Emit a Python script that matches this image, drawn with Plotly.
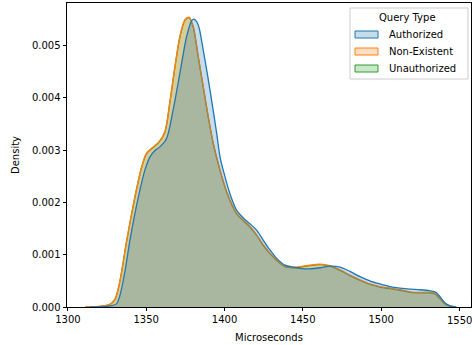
import plotly.graph_objects as go

# Kernel density estimates of query latency (microseconds) per query type
auth_x = [1314, 1322, 1327, 1331, 1333.2, 1336.4, 1339.6, 1342.8, 1346, 1349.2, 1352.4,
          1355.6, 1358.7, 1363, 1367.2, 1371.5, 1375.8, 1379, 1380.5, 1383.2, 1386.4,
          1390.7, 1395, 1397.1, 1400.3, 1403.4, 1407.7, 1412, 1416.2, 1420.5, 1424.7,
          1429, 1433.3, 1438.6, 1443.9, 1448.1, 1454.5, 1461, 1467.3, 1473.7, 1480.1,
          1486.5, 1492.8, 1499.2, 1505.6, 1512, 1518.4, 1524.8, 1531.2, 1535, 1537.5,
          1540.7, 1543.9, 1548]
auth_y = [0, 0.000005, 0.00002, 0.00006, 0.00022, 0.00068, 0.00128, 0.00179, 0.00224,
          0.00262, 0.00287, 0.00299, 0.00306, 0.00322, 0.00377, 0.00447, 0.00517, 0.00547,
          0.00550, 0.00539, 0.00491, 0.00415, 0.00332, 0.00287, 0.00249, 0.00217, 0.00185,
          0.00170, 0.00159, 0.00147, 0.00128, 0.00109, 0.00093, 0.00080, 0.00076, 0.00074,
          0.00073, 0.00075, 0.00078, 0.00076, 0.00068, 0.00058, 0.00050, 0.00044, 0.00039,
          0.00036, 0.00034, 0.00033, 0.00031, 0.00028, 0.00020, 0.00008, 0.00002, 0]

nonex_x = [1311, 1318, 1322.5, 1326.8, 1330, 1332.5, 1334.3, 1337.5, 1340.7, 1343.9, 1347.1,
           1350.2, 1354.5, 1358, 1361.9, 1365.1, 1368.3, 1371.5, 1374.7, 1377.3, 1380,
           1383.2, 1386.4, 1389.6, 1392.8, 1397.1, 1400.3, 1403.4, 1407.7, 1412, 1416.2,
           1420.5, 1424.7, 1429, 1433.3, 1438.6, 1443.9, 1448.1, 1454.5, 1461, 1467.3,
           1473.7, 1480.1, 1486.5, 1492.8, 1499.2, 1505.6, 1512, 1518.4, 1524.8, 1531.2,
           1534.3, 1537.5, 1540.7, 1543.9, 1547]
nonex_y = [0, 0.000005, 0.00002, 0.00005, 0.00015, 0.00040, 0.00068, 0.00127, 0.00179,
           0.00227, 0.00268, 0.00294, 0.00306, 0.00315, 0.00335, 0.00392, 0.00459, 0.00517,
           0.00549, 0.00554, 0.00536, 0.00479, 0.00421, 0.00364, 0.00313, 0.00262, 0.00230,
           0.00205, 0.00179, 0.00166, 0.00154, 0.00138, 0.00119, 0.00103, 0.00090, 0.00078,
           0.00076, 0.00077, 0.00080, 0.00082, 0.00079, 0.00071, 0.00061, 0.00052, 0.00044,
           0.00039, 0.00036, 0.00033, 0.00029, 0.00028, 0.00028, 0.00026, 0.00017, 0.00007,
           0.00002, 0]

unauth_x = [1311, 1318, 1322.5, 1326.8, 1330, 1332.5, 1334.3, 1337.5, 1340.7, 1343.9, 1347.1,
            1350.2, 1354.5, 1358, 1361.9, 1365.1, 1368.3, 1371.5, 1374.7, 1377.3, 1380,
            1383.2, 1386.4, 1389.6, 1392.8, 1397.1, 1400.3, 1403.4, 1407.7, 1412, 1416.2,
            1420.5, 1424.7, 1429, 1433.3, 1438.6, 1443.9, 1448.1, 1454.5, 1461, 1467.3,
            1473.7, 1480.1, 1486.5, 1492.8, 1499.2, 1505.6, 1512, 1518.4, 1524.8, 1531.2,
            1534.3, 1537.5, 1540.7, 1543.9, 1547]
unauth_y = [0, 0.000005, 0.00002, 0.00005, 0.00014, 0.00039, 0.00067, 0.00126, 0.00178,
            0.00226, 0.00267, 0.00293, 0.00305, 0.00314, 0.00334, 0.00391, 0.00458, 0.00516,
            0.00548, 0.00553, 0.00535, 0.00478, 0.00420, 0.00363, 0.00312, 0.00261, 0.00229,
            0.00204, 0.00178, 0.00165, 0.00153, 0.00137, 0.00118, 0.00102, 0.00089, 0.00077,
            0.00075, 0.00076, 0.00079, 0.00081, 0.00078, 0.00070, 0.00060, 0.00051, 0.00043,
            0.00038, 0.00035, 0.00032, 0.00028, 0.00027, 0.00027, 0.00025, 0.00016, 0.00006,
            0.00002, 0]

x_ticks = [1300, 1350, 1400, 1450, 1500, 1550]

series = [
    ("Authorized", auth_x, auth_y, (31, 119, 180)),
    ("Non-Existent", nonex_x, nonex_y, (255, 127, 14)),
    ("Unauthorized", unauth_x, unauth_y, (44, 160, 44)),
]

FONT = "DejaVu Sans"
W, H = 472, 345
ML, MR, MT, MB = 67, 1, 3, 38
PW, PH = W - ML - MR, H - MT - MB

fig = go.Figure()

# first hue drawn last so it sits on top
for name, xs, ys, (r, g, b) in reversed(series):
    fig.add_trace(go.Scatter(
        x=xs, y=ys, name=name, mode="lines",
        line=dict(color=f"rgb({r},{g},{b})", width=1.3, shape="spline", smoothing=0.8),
        fill="tozeroy", fillcolor=f"rgba({r},{g},{b},0.25)",
        showlegend=False, hoverinfo="skip",
    ))


def px_x(p):
    return (p - ML) / PW


def px_y(p):
    return (H - MB - p) / PH


# legend box
shapes = [dict(type="rect", xref="paper", yref="paper",
               x0=px_x(350), x1=px_x(468), y0=px_y(79), y1=px_y(8),
               line=dict(color="#cccccc", width=1), fillcolor="rgba(255,255,255,0.8)")]
annotations = [dict(text="Query Type", xref="paper", yref="paper",
                    x=px_x(407), y=px_y(17.5), xanchor="center", yanchor="middle",
                    showarrow=False, font=dict(family=FONT, size=10, color="black"))]
for i, (name, xs, ys, (r, g, b)) in enumerate(series):
    cy = 34.5 + 17 * i
    shapes.append(dict(type="rect", xref="paper", yref="paper",
                       x0=px_x(355), x1=px_x(378), y0=px_y(cy + 3.5), y1=px_y(cy - 3.5),
                       line=dict(color=f"rgb({r},{g},{b})", width=1),
                       fillcolor=f"rgba({r},{g},{b},0.25)"))
    annotations.append(dict(text=name, xref="paper", yref="paper",
                            x=px_x(387), y=px_y(cy), xanchor="left", yanchor="middle",
                            showarrow=False, font=dict(family=FONT, size=10, color="black")))

# the last tick label runs past the page edge, so it is placed as plain text
annotations.append(dict(text=str(x_ticks[-1]), xref="x", yref="paper",
                        x=x_ticks[-1], y=px_y(312.5), xanchor="center", yanchor="top",
                        showarrow=False, font=dict(family=FONT, size=10, color="black")))

axis_common = dict(
    showline=True, linecolor="black", linewidth=0.8, mirror=True,
    ticks="outside", ticklen=3.5, tickwidth=0.8, tickcolor="black",
    showgrid=False, zeroline=False,
    tickfont=dict(family=FONT, size=10, color="black"),
)

fig.update_layout(
    width=W, height=H,
    margin=dict(l=ML, r=MR, t=MT, b=MB, pad=0),
    paper_bgcolor="white", plot_bgcolor="white",
    shapes=shapes, annotations=annotations,
    xaxis=dict(range=[1299.4, 1557.4], tickvals=x_ticks,
               ticktext=[str(v) for v in x_ticks[:-1]] + [""],
               title=dict(text="Microseconds", font=dict(family=FONT, size=10, color="black"), standoff=9),
               **axis_common),
    yaxis=dict(range=[0, 0.00581], dtick=0.001, tickformat=".3f",
               title=dict(text="Density", font=dict(family=FONT, size=10, color="black"), standoff=10),
               **axis_common),
)

fig.write_html("out.html")
